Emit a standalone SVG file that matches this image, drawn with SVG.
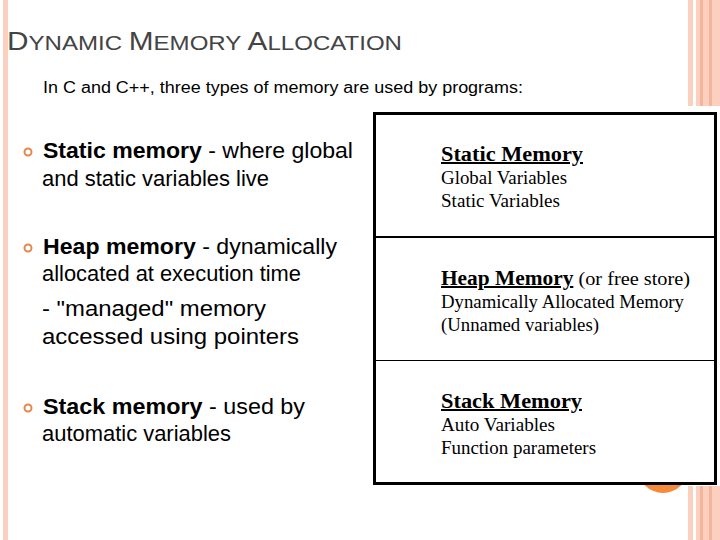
<svg xmlns="http://www.w3.org/2000/svg" width="720" height="540" viewBox="0 0 720 540">
<style>
.s{font-family:"Liberation Sans",Arial,sans-serif;fill:#000}
.b{font-size:22px}
.r{font-family:"Liberation Serif","Times New Roman",serif;fill:#000;font-size:19px}
.h{font-weight:bold;text-decoration:underline;font-size:20px}
.st{fill:#fcd0bf}
.dk{fill:#f6b49c}
.bul{fill:none;stroke:#e0894f;stroke-width:2}
</style>
<rect width="720" height="540" fill="#fff"/>
<rect x="3" y="0" width="5" height="540" class="st"/>
<g id="stripes-top">
<rect x="688" y="0" width="5" height="106" class="st"/>
<rect x="696" y="0" width="24" height="106" class="st"/>
<rect x="700" y="0" width="3" height="106" class="dk"/>
<rect x="709" y="0" width="3" height="106" class="dk"/>
</g>
<circle cx="663" cy="468" r="25" fill="#f58a3a"/>
<g id="stripes-bottom">
<rect x="688" y="486" width="5" height="54" class="st"/>
<rect x="696" y="486" width="24" height="54" class="st"/>
<rect x="700" y="486" width="3" height="54" class="dk"/>
<rect x="709" y="486" width="3" height="54" class="dk"/>
</g>
<text x="7" y="50" class="s" style="font-size:26px;fill:#444" textLength="395" lengthAdjust="spacingAndGlyphs">D<tspan font-size="21">YNAMIC </tspan>M<tspan font-size="21">EMORY </tspan>A<tspan font-size="21">LLOCATION</tspan></text>
<text x="43" y="93" class="s" font-size="16" textLength="480" lengthAdjust="spacingAndGlyphs">In C and C++, three types of memory are used by programs:</text>
<g id="bullets">
<circle cx="28" cy="152" r="3.5" class="bul"/>
<circle cx="28" cy="248" r="3.5" class="bul"/>
<circle cx="28" cy="408" r="3.5" class="bul"/>
<text x="43" y="158" class="s b" textLength="310" lengthAdjust="spacingAndGlyphs"><tspan font-weight="bold">Static memory</tspan> - where global</text>
<text x="42" y="186" class="s b" textLength="227" lengthAdjust="spacingAndGlyphs">and static variables live</text>
<text x="43" y="254" class="s b" textLength="294" lengthAdjust="spacingAndGlyphs"><tspan font-weight="bold">Heap memory</tspan> - dynamically</text>
<text x="42" y="281" class="s b" textLength="259" lengthAdjust="spacingAndGlyphs">allocated at execution time</text>
<text x="42" y="316" class="s b" textLength="224" lengthAdjust="spacingAndGlyphs">- "managed" memory</text>
<text x="42" y="344" class="s b" textLength="257" lengthAdjust="spacingAndGlyphs">accessed using pointers</text>
<text x="43" y="414" class="s b" textLength="262" lengthAdjust="spacingAndGlyphs"><tspan font-weight="bold">Stack memory</tspan> - used by</text>
<text x="42" y="441" class="s b" textLength="189" lengthAdjust="spacingAndGlyphs">automatic variables</text>
</g>
<g id="memory-box">
<rect x="374.5" y="113.5" width="341" height="370" fill="#fff" stroke="#000" stroke-width="3"/>
<line x1="374" y1="237" x2="716" y2="237" stroke="#000" stroke-width="2"/>
<line x1="374" y1="360.5" x2="716" y2="360.5" stroke="#000" stroke-width="1"/>
</g>
<g id="static-node">
<text x="441" y="161" class="r h" textLength="142" lengthAdjust="spacingAndGlyphs">Static Memory</text>
<text x="441" y="184" class="r" textLength="126" lengthAdjust="spacingAndGlyphs">Global Variables</text>
<text x="441" y="207" class="r" textLength="119" lengthAdjust="spacingAndGlyphs">Static Variables</text>
</g>
<g id="heap-node">
<text x="441" y="285" class="r" textLength="249" lengthAdjust="spacingAndGlyphs"><tspan class="h">Heap Memory</tspan> (or free store)</text>
<text x="441" y="308" class="r" textLength="243" lengthAdjust="spacingAndGlyphs">Dynamically Allocated Memory</text>
<text x="441" y="331" class="r" textLength="158" lengthAdjust="spacingAndGlyphs">(Unnamed variables)</text>
</g>
<g id="stack-node">
<text x="441" y="408" class="r h" textLength="141" lengthAdjust="spacingAndGlyphs">Stack Memory</text>
<text x="441" y="431" class="r" textLength="114" lengthAdjust="spacingAndGlyphs">Auto Variables</text>
<text x="441" y="454" class="r" textLength="155" lengthAdjust="spacingAndGlyphs">Function parameters</text>
</g>
</svg>
